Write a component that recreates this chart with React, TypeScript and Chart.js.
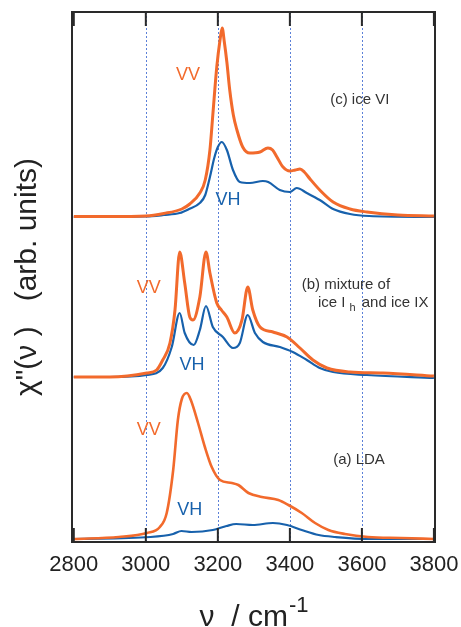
import React, { useEffect, useRef } from "react";
import { Chart, registerables } from "chart.js";
Chart.register(...registerables);

// x axis
const xTicks = [2800, 3000, 3200, 3400, 3600, 3800];
const gridLines = [3000, 3200, 3400, 3600];

// (c) ice VI
const cNuVV = [2800, 2900, 3000, 3050, 3100, 3122, 3150, 3165, 3178, 3186, 3197, 3206, 3212, 3218, 3225, 3233, 3243, 3253, 3269, 3289, 3317, 3339, 3352, 3364, 3381, 3400, 3415, 3428, 3440, 3456, 3483, 3520, 3567, 3614, 3700, 3800];
const cVV = [325.5, 325.5, 326, 328.5, 333, 338, 349, 362, 392, 427, 475, 502, 514, 500, 480, 452, 427, 412, 395, 389, 390, 394, 392, 385, 375, 371, 372, 373, 370, 363, 352, 340, 333, 330, 327, 326];
const cNuVH = [2800, 3000, 3050, 3094, 3120, 3150, 3165, 3178, 3190, 3200, 3211, 3225, 3242, 3261, 3289, 3325, 3340, 3372, 3400, 3419, 3447, 3483, 3520, 3567, 3620, 3800];
const cVH = [325, 325.5, 327, 329, 333, 339, 347, 365, 384, 395, 400, 392, 372, 360, 359, 361, 360, 352, 350, 354, 349, 342, 333, 328, 326, 325];

// (b) mixture of ice Ih and ice IX
const bNuVV = [2800, 2900, 3003, 3030, 3047, 3067, 3081, 3094, 3108, 3122, 3131, 3150, 3167, 3178, 3197, 3210, 3225, 3247, 3267, 3283, 3297, 3317, 3353, 3392, 3428, 3464, 3503, 3567, 3658, 3800];
const bVV = [165, 165, 169, 172, 182, 199, 232, 290, 259, 225, 222, 245, 290, 269, 239, 232, 225, 209, 222, 255, 232, 215, 210, 205, 194, 182, 174, 170, 169, 166];
const bNuVH = [2800, 2900, 3003, 3047, 3072, 3094, 3108, 3133, 3150, 3167, 3186, 3214, 3242, 3261, 3283, 3303, 3325, 3372, 3408, 3447, 3483, 3520, 3614, 3800];
const bVH = [165, 165, 167, 174, 195, 229, 209, 197, 212, 236, 215, 205, 194, 199, 227, 209, 200, 195, 190, 182, 174, 170, 167, 164];

// (a) LDA
const aNuVV = [2800, 2925, 3003, 3039, 3058, 3076, 3089, 3100, 3114, 3125, 3145, 3164, 3183, 3206, 3239, 3257, 3285, 3322, 3368, 3396, 3433, 3470, 3507, 3553, 3617, 3709, 3800];
const aVV = [3, 5, 9, 15, 29, 72, 122, 143, 149, 142, 119, 95, 75, 62, 59, 57, 49, 45, 42, 37, 29, 19, 12, 8, 5, 4, 3];
const aNuVH = [2800, 3013, 3076, 3099, 3127, 3186, 3224, 3251, 3297, 3353, 3392, 3433, 3480, 3526, 3617, 3800];
const aVH = [3, 5, 8, 11, 10, 12, 16, 18, 17, 19, 17, 12, 7, 5, 3, 3];

const ORANGE = "#F26A2C";
const BLUE = "#1761AC";
const FONT = '"Liberation Sans", Arial, Helvetica, sans-serif';

// annotations in data coordinates
const seriesLabels = [
  { text: "VV", nu: 3117, v: 467, color: ORANGE },
  { text: "VH", nu: 3228, v: 342, color: BLUE },
  { text: "VV", nu: 3008, v: 254, color: ORANGE },
  { text: "VH", nu: 3128, v: 177, color: BLUE },
  { text: "VV", nu: 3008, v: 112, color: ORANGE },
  { text: "VH", nu: 3122, v: 32, color: BLUE },
];

export default function App() {
  const ref = useRef<HTMLCanvasElement>(null);
  useEffect(() => {
    document.body.style.margin = "0";
    const pts = (xs: number[], ys: number[]) => xs.map((x, i) => ({ x, y: ys[i] }));
    const ds = (label: string, xs: number[], ys: number[], color: string, w: number) => ({
      label,
      data: pts(xs, ys),
      borderColor: color,
      backgroundColor: color,
      borderWidth: w,
      pointRadius: 0,
      fill: false,
      cubicInterpolationMode: "monotone" as const,
    });

    const plugin = {
      id: "decor",
      beforeDatasetsDraw(chart: any) {
        const { ctx, chartArea, scales } = chart;
        const x = scales.x;
        ctx.save();
        ctx.strokeStyle = "#5b80d8";
        ctx.lineWidth = 1;
        ctx.setLineDash([2, 2]);
        gridLines.forEach((g) => {
          const px = Math.round(x.getPixelForValue(g)) + 0.5;
          ctx.beginPath();
          ctx.moveTo(px, chartArea.top);
          ctx.lineTo(px, chartArea.bottom);
          ctx.stroke();
        });
        ctx.restore();
      },
      afterDatasetsDraw(chart: any) {
        const { ctx, chartArea, scales } = chart;
        const x = scales.x;
        const y = scales.y;
        ctx.save();
        // box
        ctx.strokeStyle = "#2a2a2a";
        ctx.lineWidth = 2;
        ctx.strokeRect(chartArea.left, chartArea.top, chartArea.right - chartArea.left, chartArea.bottom - chartArea.top);
        // inward ticks top and bottom
        xTicks.forEach((t) => {
          const px = x.getPixelForValue(t);
          ctx.beginPath();
          ctx.moveTo(px, chartArea.bottom);
          ctx.lineTo(px, chartArea.bottom - 14);
          ctx.moveTo(px, chartArea.top);
          ctx.lineTo(px, chartArea.top + 14);
          ctx.stroke();
        });
        // series labels
        ctx.textAlign = "center";
        ctx.textBaseline = "middle";
        ctx.font = `18px ${FONT}`;
        seriesLabels.forEach((l) => {
          ctx.fillStyle = l.color;
          ctx.fillText(l.text, x.getPixelForValue(l.nu), y.getPixelForValue(l.v));
        });
        // panel labels
        ctx.fillStyle = "#333";
        ctx.font = `15px ${FONT}`;
        ctx.fillText("(c) ice VI", x.getPixelForValue(3594), y.getPixelForValue(442));
        ctx.fillText("(a) LDA", x.getPixelForValue(3592), y.getPixelForValue(82));
        ctx.textAlign = "left";
        ctx.fillText("(b) mixture of", x.getPixelForValue(3433), y.getPixelForValue(257));
        let lx = x.getPixelForValue(3478);
        const ly = y.getPixelForValue(239);
        ctx.fillText("ice I", lx, ly);
        lx += ctx.measureText("ice I").width + 4;
        ctx.font = `11px ${FONT}`;
        ctx.fillText("h", lx, ly + 5);
        lx += ctx.measureText("h").width + 2;
        ctx.font = `15px ${FONT}`;
        ctx.fillText(" and ice IX", lx, ly);

        // x title
        ctx.fillStyle = "#222";
        ctx.textBaseline = "alphabetic";
        ctx.font = `30px ${FONT}`;
        const main = "\u03BD  / cm";
        const wMain = ctx.measureText(main).width;
        ctx.font = `22px ${FONT}`;
        const sup = "-1";
        const wSup = ctx.measureText(sup).width;
        const cx = (chartArea.left + chartArea.right) / 2;
        const startX = cx - (wMain + wSup) / 2;
        ctx.font = `30px ${FONT}`;
        ctx.fillText(main, startX, 626);
        ctx.font = `22px ${FONT}`;
        ctx.fillText(sup, startX + wMain + 1, 612);

        // y title
        ctx.save();
        ctx.translate(28, (chartArea.top + chartArea.bottom) / 2);
        ctx.rotate(-Math.PI / 2);
        ctx.textAlign = "center";
        ctx.textBaseline = "middle";
        ctx.font = `30px ${FONT}`;
        ctx.fillText("\u03C7\"(\u03BD )   (arb. units)", 0, 0);
        ctx.restore();
        ctx.restore();
      },
    };

    const chart = new Chart(ref.current as HTMLCanvasElement, {
      type: "line",
      data: {
        datasets: [
          ds("(c) VV", cNuVV, cVV, ORANGE, 3),
          ds("(c) VH", cNuVH, cVH, BLUE, 2.2),
          ds("(b) VV", bNuVV, bVV, ORANGE, 3),
          ds("(b) VH", bNuVH, bVH, BLUE, 2.2),
          ds("(a) VV", aNuVV, aVV, ORANGE, 2.6),
          ds("(a) VH", aNuVH, aVH, BLUE, 2.2),
        ],
      },
      options: {
        responsive: false,
        devicePixelRatio: 1,
        animation: false,
        layout: { padding: { left: 72, right: 26, top: 12, bottom: 0 } },
        plugins: { legend: { display: false }, tooltip: { enabled: false } },
        scales: {
          x: {
            type: "linear",
            position: "bottom",
            min: 2795,
            max: 3803,
            grid: { display: false, drawTicks: false },
            border: { display: false },
            ticks: {
              font: { size: 22, family: FONT },
              color: "#222",
              padding: 10,
              autoSkip: false,
              maxRotation: 0,
              includeBounds: false,
              callback: (v: any) => String(v),
            },
            afterBuildTicks: (s: any) => {
              s.ticks = xTicks.map((v) => ({ value: v }));
            },
            afterFit: (s: any) => {
              s.height = 85;
              s.paddingLeft = 0;
              s.paddingRight = 0;
              s.paddingTop = 0;
              s.paddingBottom = 0;
            },
          },
          y: { display: false, min: 0, max: 530 },
        },
      },
      plugins: [plugin],
    });
    return () => chart.destroy();
  }, []);
  return (
    <div style={{ width: 461, height: 627 }}>
      <canvas ref={ref} width={461} height={627} style={{ display: "block" }} />
    </div>
  );
}
